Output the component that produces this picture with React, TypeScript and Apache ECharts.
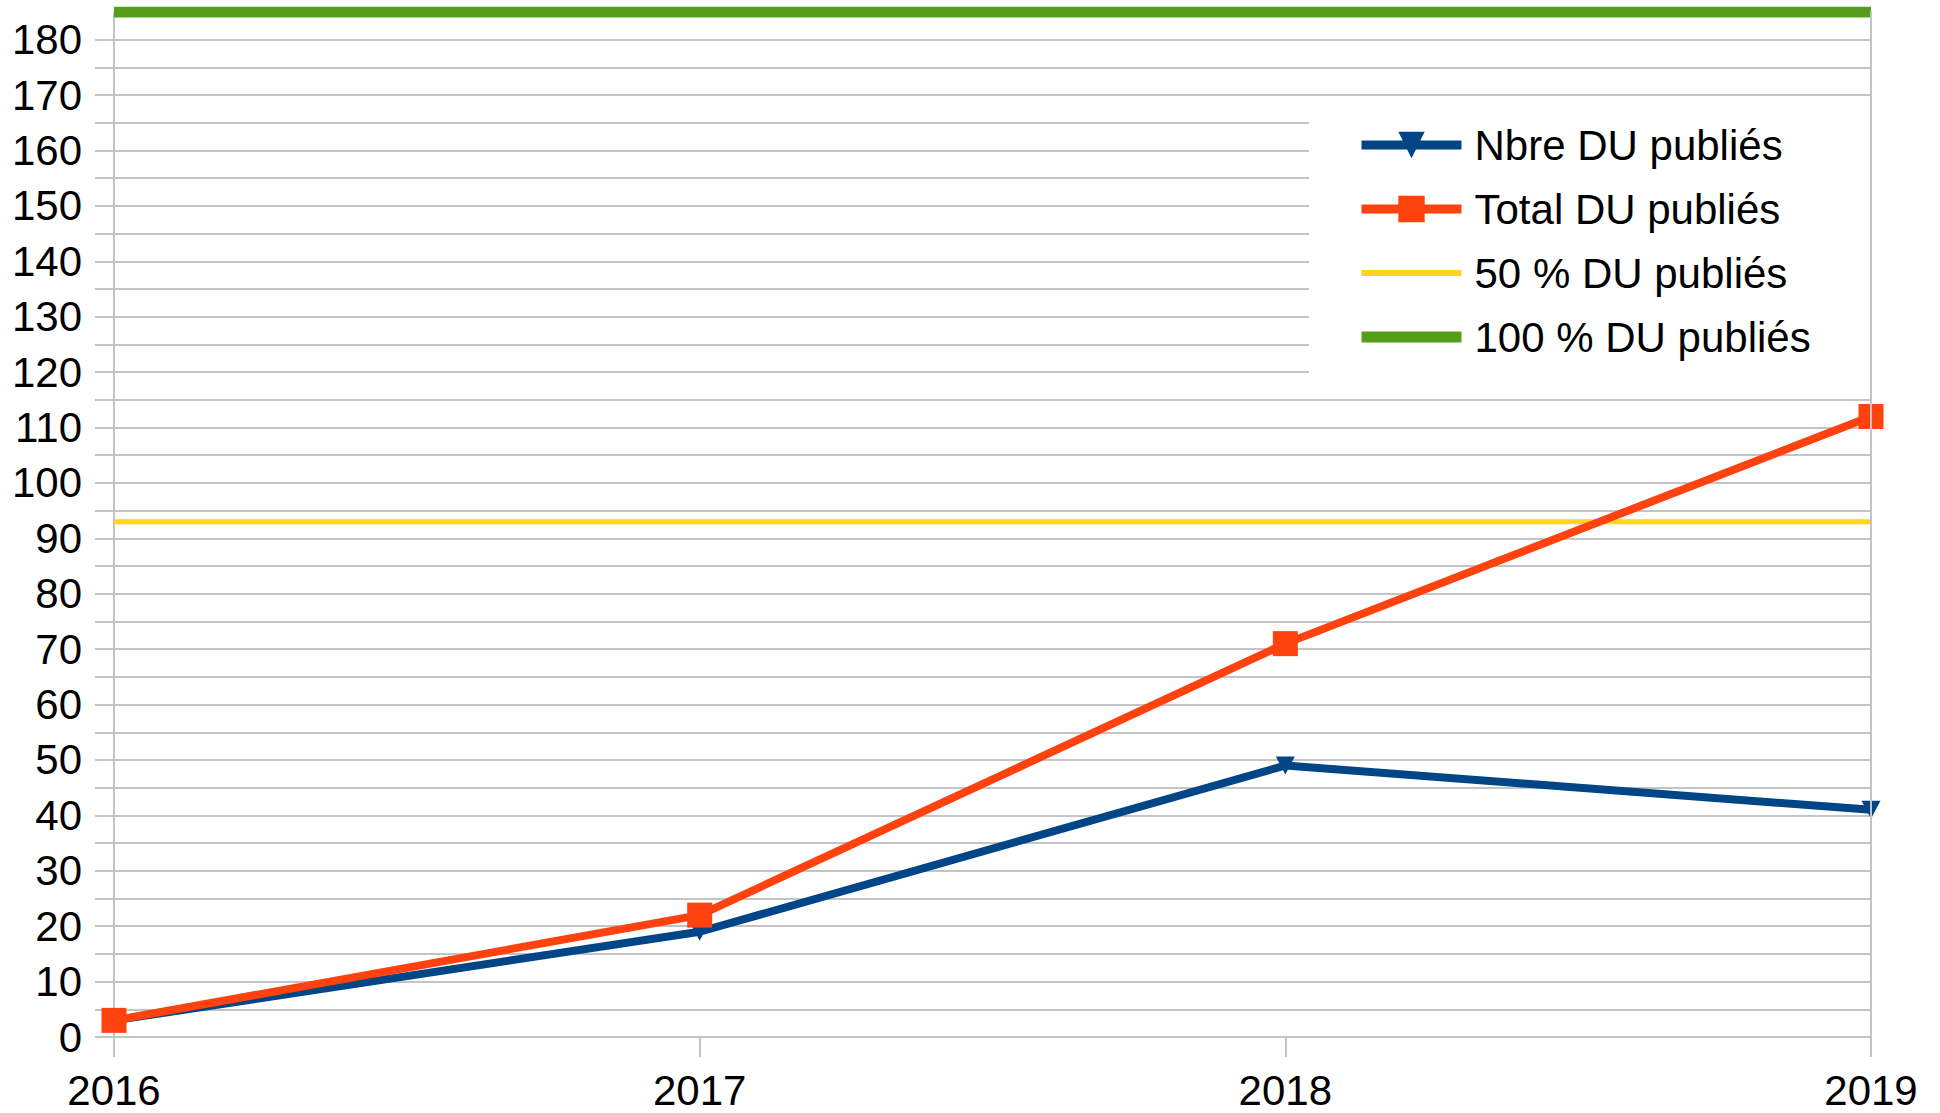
import React, { useEffect, useRef } from "react";
import * as echarts from "echarts";

const years = ["2016", "2017", "2018", "2019"];
const nbrePublies = [3, 19, 49, 41];
const totalPublies = [3, 22, 71, 112];
const half = [93, 93, 93, 93];
const full = [185, 185, 185, 185];
const seriesNames = ["Nbre DU publiés", "Total DU publiés", "50 % DU publiés", "100 % DU publiés"];

const GRID = "#c4c4c4";
const FONT = "Liberation Sans";
const FS = 42;
const BLUE = "#004586";
const ORANGE = "#ff420e";
const YELLOW = "#ffd320";
const GREEN = "#579d1c";
const TRI_DOWN = "path://M0,0 L10,0 L5,10 Z";

export default function App() {
  const ref = useRef<HTMLDivElement>(null);
  useEffect(() => {
    if (!ref.current) return;
    const chart = echarts.init(ref.current, undefined, { renderer: "svg" });
    chart.setOption({
      animation: false,
      backgroundColor: "#ffffff",
      grid: { left: 114, right: 69, top: 12, bottom: 76 },
      xAxis: {
        type: "category",
        data: years,
        boundaryGap: false,
        axisLine: { show: true, lineStyle: { color: GRID, width: 2 } },
        axisTick: { show: true, length: 20, lineStyle: { color: GRID, width: 2 } },
        axisLabel: { color: "#000", fontFamily: FONT, fontSize: FS, margin: 32 },
        splitLine: { show: false },
      },
      yAxis: [
        {
          type: "value",
          min: 0,
          max: 185,
          interval: 5,
          axisLine: { show: true, lineStyle: { color: GRID, width: 2 } },
          axisTick: { show: true, length: 19, lineStyle: { color: GRID, width: 2 } },
          axisLabel: {
            color: "#000",
            fontFamily: FONT,
            fontSize: FS,
            margin: 32,
            showMaxLabel: false,
            formatter: (v: number) => (v % 10 === 0 ? String(v) : ""),
          },
          splitLine: { show: true, lineStyle: { color: GRID, width: 2 } },
        },
        {
          type: "value",
          min: 0,
          max: 185,
          interval: 5,
          position: "right",
          z: 6,
          axisLine: { show: true, lineStyle: { color: GRID, width: 2 } },
          axisTick: { show: false },
          axisLabel: { show: false },
          splitLine: { show: false },
        },
      ],
      legend: {
        orient: "vertical",
        left: 1309,
        top: 109,
        padding: [15, 115, 28, 48],
        backgroundColor: "#ffffff",
        itemWidth: 100,
        itemHeight: 33,
        itemGap: 22,
        textStyle: { color: "#000", fontFamily: FONT, fontSize: FS, padding: [0, 0, 0, 8] },
        data: [
          { name: seriesNames[0], lineStyle: { width: 9 } },
          { name: seriesNames[1], lineStyle: { width: 9 } },
          {
            name: seriesNames[2],
            icon: "path://M0,0 L100,0 L100,6 L0,6 Z",
            itemStyle: { color: YELLOW },
          },
          {
            name: seriesNames[3],
            icon: "path://M0,0 L100,0 L100,11 L0,11 Z",
            itemStyle: { color: GREEN },
          },
        ],
      },
      series: [
        {
          name: seriesNames[3],
          type: "line",
          data: full,
          symbol: "none",
          lineStyle: { color: GREEN, width: 11 },
          itemStyle: { color: GREEN },
          z: 1,
        },
        {
          name: seriesNames[2],
          type: "line",
          data: half,
          symbol: "none",
          lineStyle: { color: YELLOW, width: 5 },
          itemStyle: { color: YELLOW },
          z: 1,
        },
        {
          name: seriesNames[0],
          type: "line",
          data: nbrePublies,
          symbol: TRI_DOWN,
          symbolSize: [19, 18],
          lineStyle: { color: BLUE, width: 8 },
          itemStyle: { color: BLUE },
          z: 2,
        },
        {
          name: seriesNames[1],
          type: "line",
          data: totalPublies,
          symbol: "rect",
          symbolSize: 25,
          lineStyle: { color: ORANGE, width: 8 },
          itemStyle: { color: ORANGE },
          z: 3,
        },
      ],
    });
    return () => chart.dispose();
  }, []);
  return (
    <div
      ref={ref}
      style={{ position: "fixed", left: 0, top: 0, width: 1940, height: 1113 }}
    />
  );
}
